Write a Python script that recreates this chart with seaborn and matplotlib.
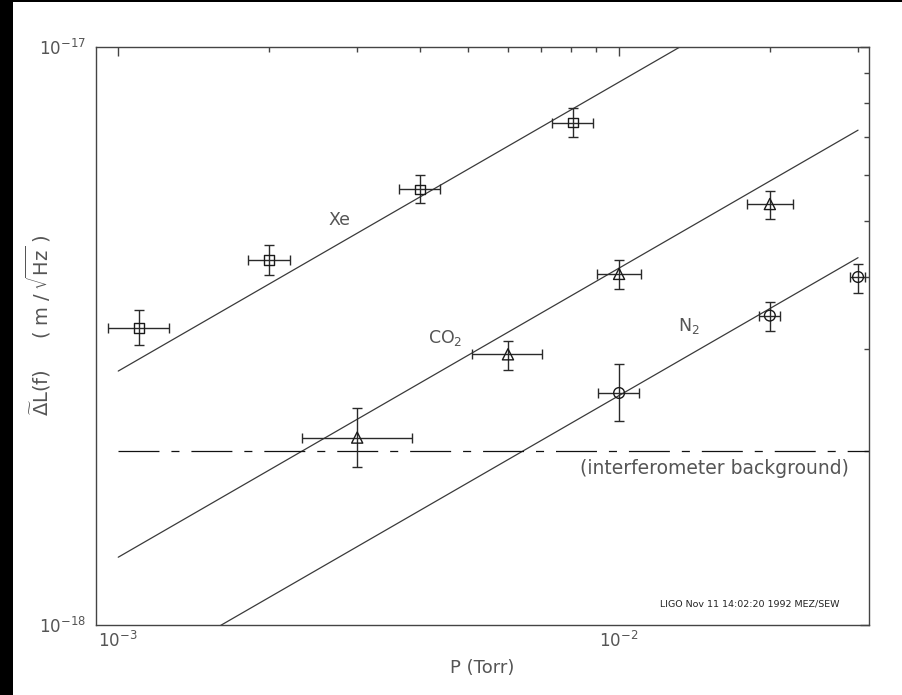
import numpy as np
import pandas as pd
import matplotlib
matplotlib.use("Agg")
import matplotlib.pyplot as plt
import seaborn as sns
from matplotlib.patches import Rectangle
from matplotlib.ticker import LogLocator, NullFormatter

# ---------------- data ----------------
gases = ["Xe", "CO2", "N2"]

xe_P = [1.1e-3, 2.0e-3, 4.0e-3, 8.1e-3]
xe_P_lo = [0.955e-3, 1.82e-3, 3.64e-3, 7.36e-3]
xe_P_hi = [1.26e-3, 2.20e-3, 4.38e-3, 8.85e-3]
xe_dL = [3.27e-18, 4.28e-18, 5.67e-18, 7.40e-18]
xe_dL_lo = [3.05e-18, 4.03e-18, 5.37e-18, 6.98e-18]
xe_dL_hi = [3.51e-18, 4.55e-18, 6.00e-18, 7.83e-18]

co2_P = [3.0e-3, 6.0e-3, 1.0e-2, 2.0e-2]
co2_P_lo = [2.33e-3, 5.08e-3, 9.05e-3, 1.80e-2]
co2_P_hi = [3.86e-3, 7.02e-3, 1.107e-2, 2.22e-2]
co2_dL = [2.11e-18, 2.94e-18, 4.05e-18, 5.35e-18]
co2_dL_lo = [1.88e-18, 2.76e-18, 3.82e-18, 5.03e-18]
co2_dL_hi = [2.37e-18, 3.10e-18, 4.28e-18, 5.64e-18]

n2_P = [1.0e-2, 2.0e-2, 3.0e-2]
n2_P_lo = [9.08e-3, 1.90e-2, 2.89e-2]
n2_P_hi = [1.095e-2, 2.10e-2, 3.10e-2]
n2_dL = [2.52e-18, 3.43e-18, 4.0e-18]
n2_dL_lo = [2.25e-18, 3.23e-18, 3.76e-18]
n2_dL_hi = [2.83e-18, 3.62e-18, 4.21e-18]

# fitted sqrt(P) lines (end points)
fit_P = [1e-3, 3e-2]
xe_fit = [2.75e-18, 1.506e-17]
co2_fit = [1.31e-18, 7.18e-18]
n2_fit = [0.789e-18, 4.32e-18]

# interferometer background
bg_P = [1e-3, 3.15e-2]
bg_level = [2e-18, 2e-18]

x_ticks = [1e-3, 1e-2]
y_ticks = [1e-18, 1e-17]

# ---------------- tables ----------------
pts = pd.concat([
    pd.DataFrame({"gas": "Xe", "P": xe_P, "Plo": xe_P_lo, "Phi": xe_P_hi,
                  "dL": xe_dL, "dLlo": xe_dL_lo, "dLhi": xe_dL_hi}),
    pd.DataFrame({"gas": "CO2", "P": co2_P, "Plo": co2_P_lo, "Phi": co2_P_hi,
                  "dL": co2_dL, "dLlo": co2_dL_lo, "dLhi": co2_dL_hi}),
    pd.DataFrame({"gas": "N2", "P": n2_P, "Plo": n2_P_lo, "Phi": n2_P_hi,
                  "dL": n2_dL, "dLlo": n2_dL_lo, "dLhi": n2_dL_hi}),
], ignore_index=True)

fits = pd.concat([
    pd.DataFrame({"gas": "Xe", "P": fit_P, "dL": xe_fit}),
    pd.DataFrame({"gas": "CO2", "P": fit_P, "dL": co2_fit}),
    pd.DataFrame({"gas": "N2", "P": fit_P, "dL": n2_fit}),
], ignore_index=True)

# ---------------- style ----------------
sns.set_theme(style="white")
plt.rcParams["font.family"] = ["DejaVu Sans"]
plt.rcParams["mathtext.fontset"] = "dejavusans"
plt.rcParams["lines.scale_dashes"] = False

TXT = "#555555"
AX = "#444444"

fig = plt.figure(figsize=(9.02, 6.95), dpi=100)
fig.patch.set_facecolor("black")
fig.patches.append(Rectangle((13 / 902, 0), 1 - 13 / 902, 1 - 2 / 695,
                             transform=fig.transFigure, facecolor="white",
                             edgecolor="none", zorder=-10))

ax = fig.add_axes([95.7 / 902, 1 - 625 / 695, (869 - 95.7) / 902, (625 - 47) / 695])
ax.set_facecolor("white")
ax.set_xscale("log")
ax.set_yscale("log")

# fitted lines
sns.lineplot(data=fits, x="P", y="dL", units="gas", estimator=None,
             color="#3a3a3a", linewidth=0.9, ax=ax, legend=False)

# background line
ax.plot(bg_P, bg_level, color="#111111", linewidth=0.9,
        linestyle=(0, (29.5, 8.6, 5.8, 8.6)))

# error bars
ax.errorbar(pts["P"], pts["dL"],
            xerr=[pts["P"] - pts["Plo"], pts["Phi"] - pts["P"]],
            yerr=[pts["dL"] - pts["dLlo"], pts["dLhi"] - pts["dL"]],
            fmt="none", ecolor="#2a2a2a", elinewidth=1.0, capsize=3.6,
            capthick=1.0, zorder=3)

# markers
sns.scatterplot(data=pts, x="P", y="dL", style="gas",
                markers={"Xe": "s", "CO2": "^", "N2": "o"},
                size="gas", sizes={"Xe": 50, "CO2": 64, "N2": 60},
                facecolor="none", edgecolor="#1a1a1a", linewidth=1.0,
                legend=False, ax=ax, zorder=4)

ax.set_xlim(10 ** -3.045, 10 ** -1.501)
ax.set_ylim(1e-18, 1e-17)

# ticks
ax.xaxis.set_major_locator(LogLocator(base=10))
ax.yaxis.set_major_locator(LogLocator(base=10))
ax.xaxis.set_minor_locator(LogLocator(base=10, subs=np.arange(2, 10)))
ax.yaxis.set_minor_locator(LogLocator(base=10, subs=np.arange(2, 10)))
ax.xaxis.set_minor_formatter(NullFormatter())
ax.yaxis.set_minor_formatter(NullFormatter())
ax.set_xticks(x_ticks)
ax.set_yticks(y_ticks)
ax.tick_params(which="both", direction="in", top=True, right=True,
               color=AX, width=1.0, labelcolor=TXT, labelsize=12)
ax.tick_params(which="major", length=6.5)
ax.tick_params(which="minor", length=3.5)
ax.tick_params(axis="y", which="major", pad=7)
ax.tick_params(axis="x", which="major", pad=4)

for sp in ax.spines.values():
    sp.set_color(AX)
    sp.set_linewidth(1.0)
    sp.set_visible(True)

ax.set_xlabel("P (Torr)", color=TXT, fontsize=13, labelpad=6)
ax.set_ylabel(r"$\widetilde{\mathrm{\Delta}}\mathrm{L(f)}\ \ \ \ \ "
              r"(\;\mathrm{m}\;/\;\sqrt{\mathrm{Hz}}\;)$",
              color=TXT, fontsize=14)
ax.yaxis.set_label_coords(-0.0552, 0.519)

# annotations
ax.text(2.77e-3, 5.02e-18, "Xe", color=TXT, fontsize=12.5, ha="center", va="center")
ax.text(4.49e-3, 3.14e-18, r"CO$_2$", color=TXT, fontsize=12.5, ha="center", va="center")
ax.text(1.377e-2, 3.29e-18, r"N$_2$", color=TXT, fontsize=12.5, ha="center", va="center")
ax.text(1.55e-2, 1.862e-18, "(interferometer background)", color=TXT,
        fontsize=13.5, ha="center", va="center")
ax.text(0.8455, 0.0363, "LIGO Nov 11 14:02:20 1992 MEZ/SEW", color="#222222",
        fontsize=6.8, ha="center", va="center", transform=ax.transAxes)

fig.savefig("out.png", dpi=100, facecolor=fig.get_facecolor())
